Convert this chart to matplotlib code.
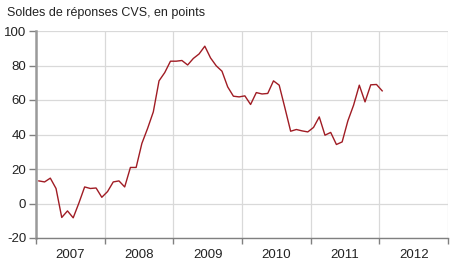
import matplotlib
matplotlib.use('Agg')
import matplotlib.pyplot as plt
import numpy as np

plt.rcParams['font.family'] = ['Liberation Sans', 'DejaVu Sans']

# monthly balance of opinion, Jan 2007 - Jan 2012
start_year = 2007
values = [
    13.1, 12.5, 14.7, 8.7, -8.1, -4.3, -8.3, 0.3, 9.6, 8.7, 9.0, 3.6,        # 2007
    6.9, 12.5, 13.1, 9.6, 20.9, 20.9, 34.8, 43.5, 53.1, 71.1, 75.9, 82.5,    # 2008
    82.5, 82.9, 80.3, 84.1, 86.7, 91.2, 84.4, 79.8, 76.7, 67.6, 62.2, 61.8,  # 2009
    62.4, 57.4, 64.3, 63.5, 63.8, 71.1, 68.6, 55.4, 41.9, 42.9, 42.1, 41.5,  # 2010
    44.1, 50.2, 39.6, 41.2, 34.2, 35.7, 47.9, 57.0, 68.6, 58.9, 68.8, 69.0,  # 2011
    65.3,                                                                    # 2012
]
years = [2007, 2008, 2009, 2010, 2011, 2012]
yticks = [-20, 0, 20, 40, 60, 80, 100]
title = 'Soldes de réponses CVS, en points'

months = np.arange(len(values))
x = start_year + (months + 0.5) / 12.

fig = plt.figure(figsize=(4.5, 2.79), dpi=100)
ax = fig.add_axes([36/450., 41/279., 412/450., 207/279.])

ax.plot(x, values, color='#a01c24', lw=1.0)

ax.set_xlim(years[0], years[-1] + 1)
ax.set_ylim(-20, 100)
ax.set_yticks(yticks)
ax.set_yticklabels([str(v) for v in yticks])

ax.set_xticks(years + [years[-1] + 1])
ax.set_xticklabels([])
ax.set_xticks([y + 0.5 for y in years], minor=True)
ax.set_xticklabels([str(y) for y in years], minor=True)
ax.tick_params(axis='x', which='minor', length=0, pad=8, labelsize=9.5, colors='#222222')
ax.tick_params(axis='x', which='major', length=4, width=1, color='#808080')
ax.tick_params(axis='y', length=5, width=1, color='#808080', pad=2,
               labelsize=9.5, labelcolor='#222222')

ax.grid(which='major', color='#d9d9d9', lw=0.9)
ax.set_axisbelow(True)

for s in ['top', 'right']:
    ax.spines[s].set_visible(False)
ax.spines['left'].set_color('#9a9a9a')
ax.spines['left'].set_linewidth(1.8)
ax.spines['bottom'].set_color('#808080')
ax.spines['bottom'].set_linewidth(1.0)

fig.text(7/450., 1 - 13/279., title, fontsize=9, color='#222222', va='center', ha='left')

fig.savefig('out.png', dpi=100)
